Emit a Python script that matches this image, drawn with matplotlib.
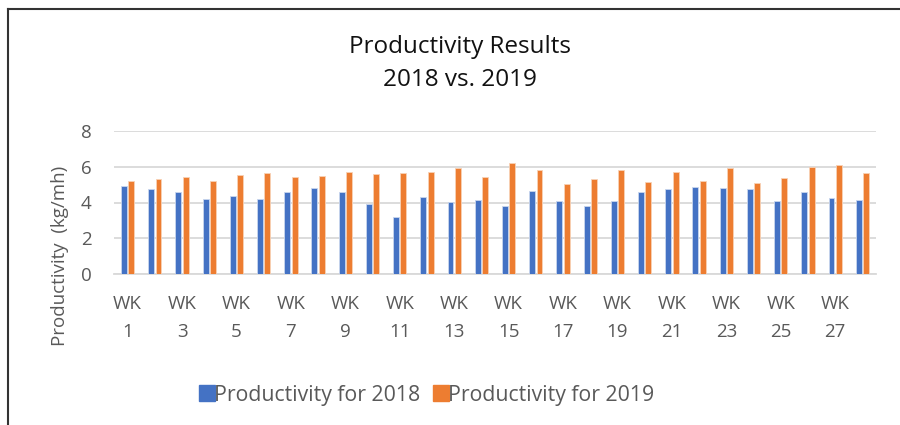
import matplotlib
matplotlib.use("Agg")
from matplotlib import pyplot as plt
from matplotlib.lines import Line2D
import numpy as np

# weekly productivity values (kg/mh)
weeks = list(range(1, 29))
prod_2018 = [4.91, 4.73, 4.60, 4.22, 4.39, 4.20, 4.60, 4.82, 4.60, 3.91,
             3.18, 4.28, 4.04, 4.15, 3.81, 4.65, 4.09, 3.81, 4.06, 4.61,
             4.76, 4.87, 4.82, 4.74, 4.07, 4.58, 4.24, 4.15]
prod_2019 = [5.19, 5.32, 5.41, 5.23, 5.53, 5.66, 5.45, 5.49, 5.69, 5.60,
             5.66, 5.73, 5.95, 5.43, 6.23, 5.80, 5.04, 5.32, 5.80, 5.17,
             5.73, 5.19, 5.95, 5.10, 5.36, 5.97, 6.10, 5.67]
tick_labels = [f"WK\n{w}" for w in weeks[::2]]
y_ticks = [0, 2, 4, 6, 8]

BLUE = '#4472C4'
ORANGE = '#ED7D31'
GREY = '#595959'
plt.rcParams['font.family'] = ['Open Sans', 'DejaVu Sans']

fig = plt.figure(figsize=(9, 4.25), dpi=100)
ax = fig.add_axes([114 / 900, 1 - 274 / 425, 762 / 900, 143 / 425])

x = np.arange(len(weeks))
w = 0.22
ax.bar(x - 0.135, prod_2018, w, color=BLUE, edgecolor='#C9D6EE', linewidth=0.6, zorder=3)
ax.bar(x + 0.135, prod_2019, w, color=ORANGE, edgecolor='#F8D2B6', linewidth=0.6, zorder=3)

ax.set_xlim(-0.5, len(weeks) - 0.5)
ax.set_ylim(0, 8)
ax.set_yticks(y_ticks)
ax.set_xticks(x[::2])
ax.set_xticklabels(tick_labels, linespacing=1.75)
ax.tick_params(axis='both', length=0, colors=GREY, labelsize=13.5)
ax.tick_params(axis='x', pad=15)
ax.tick_params(axis='y', pad=16)
ax.yaxis.grid(True, color='#D9D9D9', linewidth=1.3, zorder=0)
for side in ['top', 'right', 'left']:
    ax.spines[side].set_visible(False)
ax.spines['bottom'].set_color('#D9D9D9')
ax.spines['bottom'].set_linewidth(1.3)

fig.text(60 / 900, 1 - 256 / 425, 'Productivity  (kg/mh)', rotation=90,
         ha='center', va='center', color=GREY, fontsize=13.5)

fig.text(460 / 900, 1 - 47 / 425, 'Productivity Results', ha='center', va='center',
         fontsize=17.5, color='#111111')
fig.text(460 / 900, 1 - 80 / 425, '2018 vs. 2019', ha='center', va='center',
         fontsize=17.5, color='#111111')

handles = [Line2D([], [], marker='s', linestyle='', color=BLUE, markersize=11),
           Line2D([], [], marker='s', linestyle='', color=ORANGE, markersize=11)]
leg = fig.legend(handles, ['Productivity for 2018', 'Productivity for 2019'],
                 loc='center', bbox_to_anchor=(427 / 900, 1 - 395 / 425), ncol=2,
                 frameon=False, fontsize=15.3, handletextpad=0.0, columnspacing=0.6,
                 handlelength=0.7)
for t in leg.get_texts():
    t.set_color(GREY)

# chart border: left and top edges only
fig.add_artist(Line2D([8 / 900, 8 / 900], [0, 1 - 9 / 425], color='#333333', linewidth=1.5))
fig.add_artist(Line2D([8 / 900, 1], [1 - 9 / 425, 1 - 9 / 425], color='#333333', linewidth=1.5))

fig.savefig('out.png', dpi=100)
